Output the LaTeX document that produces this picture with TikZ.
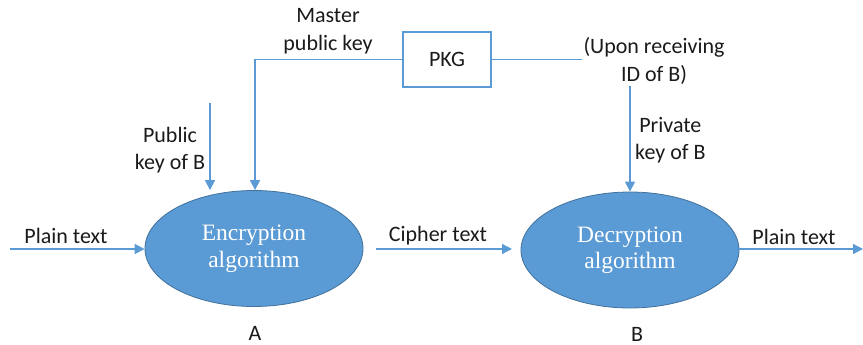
\documentclass[tikz,border=0pt]{standalone}
\usepackage{fontspec}
\setmainfont{Carlito}
\newfontfamily\algfont{Liberation Serif}
\usetikzlibrary{shapes.geometric,arrows.meta}
\definecolor{lineblue}{HTML}{5B9BD5}
\definecolor{fillblue}{HTML}{5B9BD5}
\definecolor{edgeblue}{HTML}{41719C}
\definecolor{txt}{HTML}{1A1A1A}
\tikzset{
  conn/.style={draw=lineblue, line width=1.3pt},
  arr/.style={conn, -{Triangle[length=10pt,width=10pt]}},
  algo/.style={ellipse, fill=fillblue, draw=edgeblue, line width=0.8pt,
    minimum width=218pt, minimum height=116pt, inner sep=0pt,
    text=white, align=center,
    font=\algfont\fontsize{23.5}{26.5}\selectfont},
  lbl/.style={text=txt, align=center, inner sep=1pt,
    font=\fontsize{22}{27.5}\selectfont},
  keybox/.style={draw=lineblue, line width=1.1pt, minimum width=88pt,
    minimum height=55pt, text=txt, font=\fontsize{22}{27}\selectfont}
}
\begin{document}
\begin{tikzpicture}[x=1pt,y=-1pt]
\useasboundingbox (0,0) rectangle (863,345);

% processing stages
\node[algo] (enc) at (254,248.5) {\raisebox{6pt}{\begin{tabular}{@{}c@{}}Encryption\\algorithm\end{tabular}}};
\node[algo] (dec) at (630,250) {\raisebox{5pt}{\begin{tabular}{@{}c@{}}Decryption\\algorithm\end{tabular}}};

% key generator
\node[keybox] (pkg) at (447,59.5) {PKG};

% free ends of the outer arrows
\coordinate (inL) at (10,249);
\coordinate (outR) at (863,249);
\coordinate (cs) at (376,249);
\coordinate (ce) at (512,249);
\coordinate (pubtop) at (210,103);
\coordinate (mstr) at (255,58);

% labels
\node[lbl] (plainA) at (66,236) {Plain text};
\node[lbl] (cipher) at (438,236) {Cipher text};
\node[lbl] (plainB) at (794,237) {Plain text};
\node[lbl] (pubB) at (170,150) {Public\\key of B};
\node[lbl] (master) at (328,31) {Master\\public key};
\node[lbl] (upon) at (654,61) {(Upon receiving\\ID of B)};
\node[lbl, anchor=west] (privB) at (634,140) {Private\\key of B};
\node[lbl] (labA) at (255,333) {A};
\node[lbl] (labB) at (637,334) {B};

% connectors
\draw[arr] (inL) -- (inL -| enc.west);
\draw[arr] (cs) -- (ce);
\draw[arr] (outR -| dec.east) -- (outR);
\draw[arr] (pubtop) -- (pubtop |- enc.north);
\draw[arr] (pkg.west) -| (mstr |- enc.north);
\draw[conn] (pkg.east) -- (pkg.east -| upon.west);
\draw[arr] (dec.north |- upon.south) -- (dec.north);
\end{tikzpicture}
\end{document}
